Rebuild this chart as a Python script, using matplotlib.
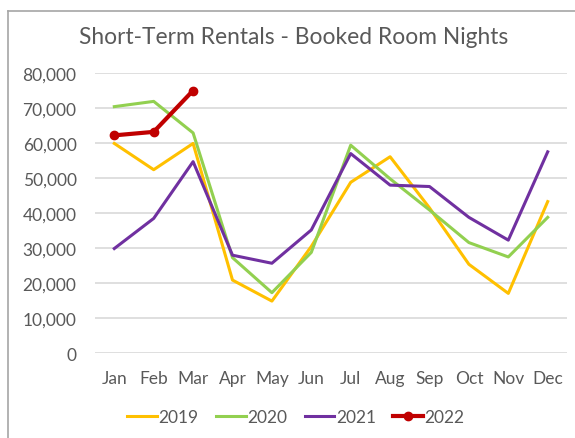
import matplotlib.pyplot as plt
from matplotlib.lines import Line2D
from matplotlib.ticker import FuncFormatter

months = ['Jan', 'Feb', 'Mar', 'Apr', 'May', 'Jun', 'Jul', 'Aug', 'Sep', 'Oct', 'Nov', 'Dec']
y2019 = [59900, 52400, 59900, 20900, 14900, 30500, 48800, 56100, 41500, 25400, 17100, 43300]
y2020 = [70400, 71900, 62900, 27300, 17300, 28800, 59400, 49800, 40900, 31600, 27500, 38800]
y2021 = [29900, 38500, 54700, 28000, 25700, 35200, 57000, 48000, 47600, 38800, 32300, 57500]
y2022 = [62200, 63200, 75000]

plt.rcParams['font.family'] = ['Lato', 'DejaVu Sans']
txt = '#595959'

fig = plt.figure(figsize=(5.75, 4.39), dpi=100)
ax = fig.add_axes([94.6 / 575, 1 - 354.3 / 439, (567.4 - 94.6) / 575, (354.3 - 74) / 439])

x = list(range(len(months)))
ax.plot(x, y2019, color='#FFC000', lw=2.2, label='2019')
ax.plot(x, y2020, color='#92D050', lw=2.2, label='2020')
ax.plot(x, y2021, color='#7030A0', lw=2.2, label='2021')
ax.plot(x[:3], y2022, color='#C00000', lw=3, marker='o', ms=6, label='2022')

ax.set_xlim(-0.5, 11.5)
ax.set_ylim(0, 80000)
ax.set_yticks(range(0, 80001, 10000))
ax.yaxis.set_major_formatter(FuncFormatter(lambda v, p: f'{int(v):,}'))
ax.set_xticks(x)
ax.set_xticklabels(months)
ax.tick_params(length=0, labelsize=12.5, colors=txt)
ax.tick_params(axis='y', pad=13)
ax.tick_params(axis='x', pad=12)
ax.grid(axis='y', color='#D9D9D9', lw=1.2)
ax.set_axisbelow(True)
for s in ax.spines.values():
    s.set_visible(False)

fig.text(294 / 575, 1 - 38 / 439, 'Short-Term Rentals - Booked Room Nights',
         ha='center', va='center', fontsize=16.4, color=txt)

fig.legend(loc='center', bbox_to_anchor=(296 / 575, 1 - 418 / 439), ncol=4,
           frameon=False, fontsize=12.5, labelcolor=txt, handlelength=1.7,
           handletextpad=0.1, columnspacing=1.0)

# chart border (top and left only visible)
fig.add_artist(Line2D([8 / 575, 8 / 575], [0, 1 - 12 / 439], color='#A6A6A6', lw=1.2,
                      transform=fig.transFigure))
fig.add_artist(Line2D([8 / 575, 1], [1 - 12 / 439, 1 - 12 / 439], color='#A6A6A6', lw=1.2,
                      transform=fig.transFigure))

fig.savefig('out.png', dpi=100)
